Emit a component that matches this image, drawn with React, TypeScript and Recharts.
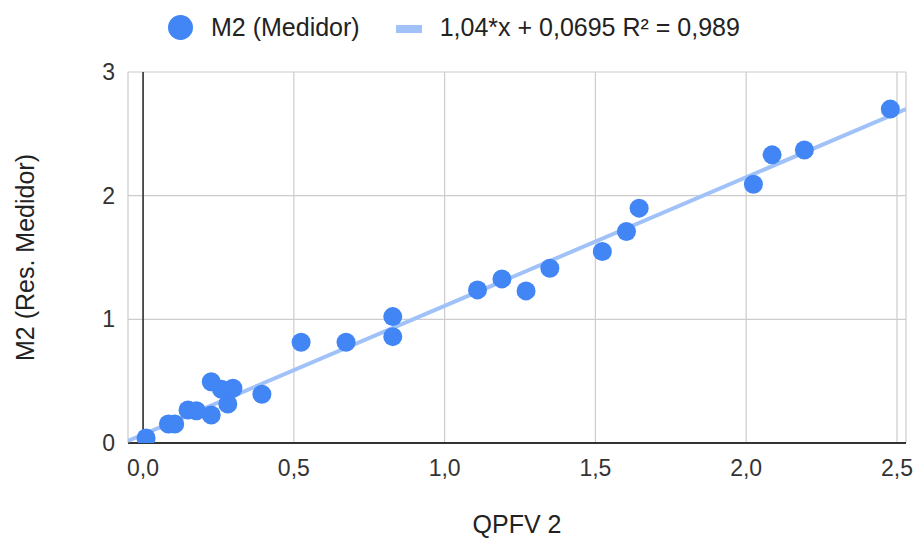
import React from 'react';
import {
  ComposedChart,
  Scatter,
  XAxis,
  YAxis,
  CartesianGrid,
  ReferenceLine,
} from 'recharts';

// Measured points: QPFV 2 (x) vs M2 (Res. Medidor) (y)
const qpfv2 = [
  0.01, 0.084, 0.105, 0.149, 0.177, 0.226, 0.226, 0.26, 0.298, 0.281, 0.394,
  0.524, 0.673, 0.828, 0.828, 1.109, 1.19, 1.27, 1.349, 1.523, 1.603, 1.645,
  2.024, 2.086, 2.193, 2.478,
];
const m2 = [
  0.04, 0.154, 0.154, 0.267, 0.261, 0.227, 0.496, 0.434, 0.442, 0.316, 0.394,
  0.815, 0.815, 1.022, 0.86, 1.238, 1.327, 1.23, 1.413, 1.548, 1.71, 1.899,
  2.093, 2.33, 2.37, 2.7,
];

// Trendline endpoints
const trendX = [-0.05, 2.53];
const trendY = [0.017, 2.7];

const xTicks = [0, 0.5, 1, 1.5, 2, 2.5];
const yTicks = [0, 1, 2, 3];
const xDomain = [-0.05, 2.53];
const yDomain = [0, 3];

const seriesName = 'M2 (Medidor)';
const trendName = '1,04*x + 0,0695 R² = 0,989';
const xTitle = 'QPFV 2';
const yTitle = 'M2 (Res. Medidor)';

const points = qpfv2.map((x, i) => ({ x, y: m2[i] }));
const trend = trendX.map((x, i) => ({ x, y: trendY[i] }));

const FONT = '"Liberation Sans", Arial, sans-serif';
const BLUE = '#4285f4';
const LIGHT = '#a0c2f9';

const fmt = (v: number) => v.toFixed(1).replace('.', ',');

const Dot = (props: any) => {
  const { cx, cy } = props;
  if (cx == null || cy == null) return <g />;
  return <circle cx={cx} cy={cy} r={9.5} fill={BLUE} />;
};

const NoShape = () => <g />;

const YTitle = (props: any) => {
  const vb = props.viewBox || { x: 0, y: 72, width: 128, height: 371 };
  const cy = vb.y + vb.height / 2;
  const cx = 25;
  return (
    <text
      x={cx}
      y={cy}
      dy="0.355em"
      textAnchor="middle"
      transform={`rotate(-90, ${cx}, ${cy})`}
      fill="#222"
      fontSize={25}
      fontFamily={FONT}
    >
      {yTitle}
    </text>
  );
};

export default function App() {
  return (
    <div style={{ position: 'absolute', left: 0, top: 0, width: 918, height: 543, background: '#fff' }}>
      <div
        style={{
          position: 'absolute',
          top: 15,
          left: 168,
          display: 'flex',
          alignItems: 'center',
          fontFamily: FONT,
          fontSize: 25,
          lineHeight: '25px',
          color: '#222',
          whiteSpace: 'nowrap',
          zIndex: 2,
        }}
      >
        <div style={{ width: 25, height: 25, borderRadius: '50%', background: BLUE }} />
        <span style={{ marginLeft: 18 }}>{seriesName}</span>
        <div style={{ width: 26, height: 8, background: LIGHT, marginLeft: 36, marginTop: 2 }} />
        <span style={{ marginLeft: 18 }}>{trendName}</span>
      </div>
      <ComposedChart
        width={918}
        height={543}
        margin={{ top: 72, right: 12, bottom: 0, left: 0 }}
      >
        <CartesianGrid stroke="#cccccc" strokeWidth={1.2} />
        <XAxis
          type="number"
          dataKey="x"
          domain={xDomain}
          ticks={xTicks}
          allowDataOverflow
          axisLine={false}
          tickLine={false}
          tickSize={0}
          tickMargin={17}
          height={100}
          tickFormatter={fmt}
          tick={{ fill: '#333', fontSize: 23, fontFamily: FONT }}
          label={{ value: xTitle, position: 'insideBottom', offset: 10, fill: '#222', fontSize: 25, fontFamily: FONT }}
        />
        <YAxis
          type="number"
          dataKey="y"
          domain={yDomain}
          ticks={yTicks}
          allowDataOverflow
          axisLine={false}
          tickLine={false}
          tickSize={0}
          tickMargin={13}
          width={128}
          tick={{ fill: '#333', fontSize: 23, fontFamily: FONT }}
          label={<YTitle />}
        />
        <ReferenceLine x={0} stroke="#333" strokeWidth={1.6} />
        <ReferenceLine y={0} stroke="#333" strokeWidth={1.8} />
        <Scatter
          name={trendName}
          data={trend}
          line={{ stroke: LIGHT, strokeWidth: 4 }}
          lineType="joint"
          shape={NoShape}
          legendType="none"
          isAnimationActive={false}
        />
        <Scatter
          name={seriesName}
          data={points}
          fill={BLUE}
          shape={Dot}
          isAnimationActive={false}
        />
      </ComposedChart>
    </div>
  );
}
